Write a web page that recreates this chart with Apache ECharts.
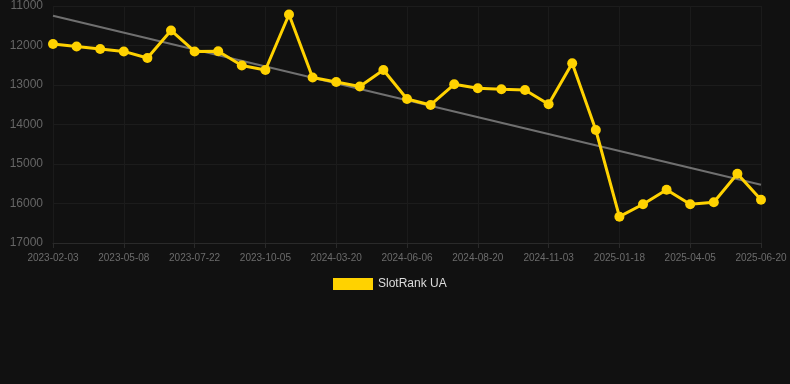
<!DOCTYPE html>
<html>
<head>
<meta charset="utf-8">
<script src="https://cdn.jsdelivr.net/npm/echarts@6/dist/echarts.min.js"></script>
<style>
  html, body { margin: 0; padding: 0; background: #111111; }
  #chart { width: 790px; height: 384px; }
</style>
</head>
<body>
<div id="chart"></div>
<script>
const dates = [
  "2023-02-03", "2023-03-08", "2023-04-08", "2023-05-08", "2023-06-08", "2023-06-22",
  "2023-07-22", "2023-08-22", "2023-09-05", "2023-10-05", "2023-11-05", "2024-01-20",
  "2024-03-20", "2024-04-06", "2024-05-06", "2024-06-06", "2024-07-06", "2024-07-20",
  "2024-08-20", "2024-09-20", "2024-10-03", "2024-11-03", "2024-12-03", "2024-12-18",
  "2025-01-18", "2025-02-18", "2025-03-05", "2025-04-05", "2025-05-05", "2025-05-20",
  "2025-06-20"
];

const rankValues = [
  11960, 12025, 12090, 12150, 12316, 11620, 12150, 12145, 12506, 12620, 11215,
  12810, 12924, 13038, 12620, 13354, 13506, 12983, 13084, 13109, 13127, 13489,
  12451, 14139, 16334, 16020, 15650, 16020, 15970, 15245, 15903
];

// trend line end points
const trendStart = 11245;
const trendEnd = 15524;

const trendValues = dates.map((d, i) =>
  i === 0 ? trendStart : (i === dates.length - 1 ? trendEnd : null)
);

const chart = echarts.init(document.getElementById("chart"), null, { renderer: "canvas" });

chart.setOption({
  animation: false,
  backgroundColor: "#111111",
  grid: { left: 53, right: 29, top: 6, bottom: 141, containLabel: false },
  legend: {
    data: ["SlotRank UA"],
    top: 273,
    left: 328,
    itemWidth: 40,
    itemHeight: 12,
    itemGap: 10,
    icon: "rect",
    textStyle: { color: "#dddddd", fontSize: 12 }
  },
  xAxis: {
    type: "category",
    boundaryGap: false,
    data: dates,
    axisLine: { lineStyle: { color: "#2a2a2a" } },
    axisTick: { interval: 2, lineStyle: { color: "#2a2a2a" } },
    axisLabel: { interval: 2, color: "#6c6c6c", fontSize: 10, margin: 10 },
    splitLine: { show: true, interval: 2, lineStyle: { color: "#1b1b1b" } }
  },
  yAxis: {
    type: "value",
    inverse: true,
    min: 11000,
    max: 17000,
    interval: 1000,
    axisLine: { show: false },
    axisTick: { show: false },
    axisLabel: { color: "#666666", fontSize: 12, margin: 10, formatter: (v) => String(v) },
    splitLine: { lineStyle: { color: "#1c1c1c" } }
  },
  series: [
    {
      name: "Trend",
      type: "line",
      data: trendValues,
      connectNulls: true,
      showSymbol: false,
      symbol: "none",
      lineStyle: { color: "#707070", width: 2 },
      z: 1
    },
    {
      name: "SlotRank UA",
      type: "line",
      data: rankValues,
      symbol: "circle",
      symbolSize: 10,
      itemStyle: { color: "#ffd200" },
      lineStyle: { color: "#ffd200", width: 3 },
      z: 2
    }
  ]
});
</script>
</body>
</html>
